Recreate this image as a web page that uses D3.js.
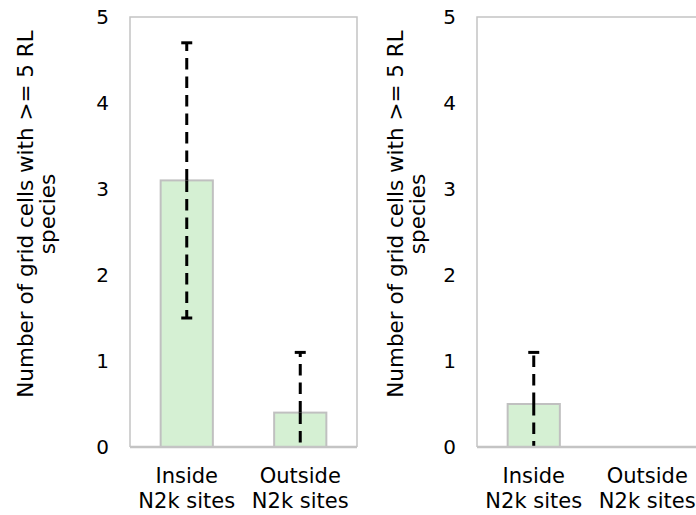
<!DOCTYPE html>
<html><head><meta charset="utf-8">
<script src="https://cdn.jsdelivr.net/npm/d3@7"></script>
<style>html,body{margin:0;padding:0;background:#fff;overflow:hidden}</style>
</head><body>
<svg id="c" width="696" height="515"></svg>
<script>
const categories = ["Inside\nN2k sites", "Outside\nN2k sites"];
const leftValues = [3.1, 0.4];
const leftErrLow = [1.5, 0];
const leftErrHigh = [4.7, 1.1];
const rightValues = [0.5, 0];
const rightErrLow = [0, null];
const rightErrHigh = [1.1, null];
const yTicks = [0, 1, 2, 3, 4, 5];
const yTitle = ["Number of grid cells with >= 5 RL", "species"];

const svg = d3.select("#c");
const font = "DejaVu Sans, Verdana, sans-serif";
const plotTop = 17, plotBottom = 447, pw = 227;

function panel(x0, titleX, vals, lo, hi) {
  const g = svg.append("g");
  const x = d3.scaleBand().domain(categories).range([x0, x0 + pw]).paddingInner(0.54).paddingOuter(0.27);
  const y = d3.scaleLinear().domain([0, 5]).range([plotBottom, plotTop]);
  g.append("path").attr("d", `M${x0},${plotBottom}V${plotTop}H${x0+pw}V${plotBottom}`)
    .attr("fill", "none").attr("stroke", "#c4c4c4").attr("stroke-width", 1.5);
  const data = categories.map((c, i) => ({c, v: vals[i], lo: lo[i], hi: hi[i]}));
  g.selectAll("rect.bar").data(data.filter(d => d.v > 0)).join("rect")
    .attr("x", d => x(d.c)).attr("width", x.bandwidth())
    .attr("y", d => y(d.v)).attr("height", d => y(0) - y(d.v))
    .attr("fill", "#d5f0d3").attr("stroke", "#c0c0c0").attr("stroke-width", 2);
  const eb = data.filter(d => d.hi != null);
  const cx = d => x(d.c) + x.bandwidth() / 2;
  g.selectAll("line.errUp").data(eb).join("line")
    .attr("x1", cx).attr("x2", cx).attr("y1", d => y(d.v)).attr("y2", d => y(d.hi))
    .attr("stroke", "#000").attr("stroke-width", 3).attr("stroke-dasharray", "11.5,7");
  g.selectAll("line.errDn").data(eb).join("line")
    .attr("x1", cx).attr("x2", cx).attr("y1", d => y(d.v)).attr("y2", d => y(d.lo))
    .attr("stroke", "#000").attr("stroke-width", 3).attr("stroke-dasharray", "11.5,7");
  g.selectAll("line.capH").data(eb).join("line")
    .attr("x1", d => cx(d) - 5.5).attr("x2", d => cx(d) + 5.5).attr("y1", d => y(d.hi)).attr("y2", d => y(d.hi))
    .attr("stroke", "#000").attr("stroke-width", 3);
  g.selectAll("line.capL").data(eb.filter(d => d.lo > 0)).join("line")
    .attr("x1", d => cx(d) - 5.5).attr("x2", d => cx(d) + 5.5).attr("y1", d => y(d.lo)).attr("y2", d => y(d.lo))
    .attr("stroke", "#000").attr("stroke-width", 3);
  g.append("line").attr("x1", x0).attr("x2", x0 + pw).attr("y1", plotBottom).attr("y2", plotBottom)
    .attr("stroke", "#c4c4c4").attr("stroke-width", 2.5);
  const ya = d3.axisLeft(y).tickValues(yTicks).tickSize(0).tickPadding(21).tickFormat(d3.format("d"));
  const yg = g.append("g").attr("transform", `translate(${x0},0)`).call(ya);
  yg.select(".domain").remove();
  yg.selectAll("text").attr("font-family", font).attr("font-size", 20).attr("fill", "#000");
  const xa = d3.axisBottom(x).tickSize(0).tickPadding(0).tickFormat(() => "");
  const xg = g.append("g").attr("transform", `translate(0,${plotBottom})`).call(xa);
  xg.select(".domain").remove();
  xg.selectAll(".tick").each(function(d) {
    const t = d3.select(this).select("text").attr("font-family", font).attr("font-size", 21)
      .attr("fill", "#000").attr("text-anchor", "middle").attr("dy", null).attr("y", 0);
    d.split("\n").forEach((s, i) => t.append("tspan").attr("x", 0).attr("y", 36 + i * 25).text(s));
  });
  const tt = g.append("text").attr("transform", `translate(${titleX},214) rotate(-90)`)
    .attr("font-family", font).attr("font-size", 21.5).attr("text-anchor", "middle").attr("fill", "#000");
  yTitle.forEach((s, i) => tt.append("tspan").attr("x", 0).attr("y", 33 + i * 21.5).text(s));
}
panel(130, 0, leftValues, leftErrLow, leftErrHigh);
panel(477, 370, rightValues, rightErrLow, rightErrHigh);
</script>
</body></html>
